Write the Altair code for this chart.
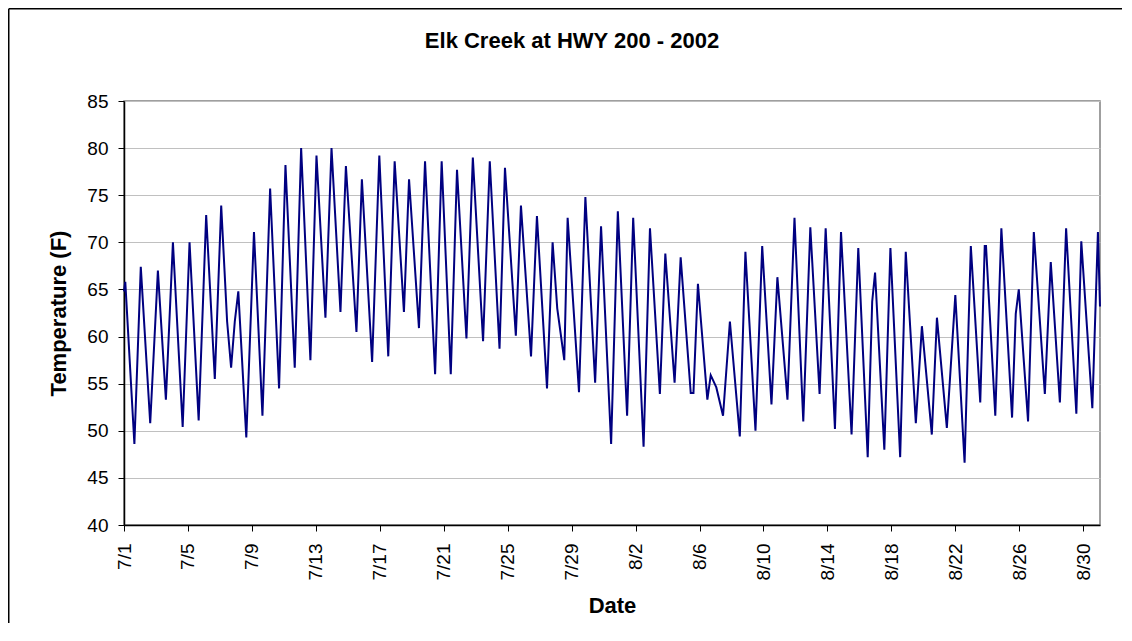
import json
import altair as alt
import pandas as pd

# ---- data (days since 7/1 00:00, temperature F) ----
days = [
    0.00, 0.08, 0.65, 1.05, 1.64, 2.12, 2.62, 3.06, 3.67, 4.10,
    4.67, 5.14, 5.68, 6.08, 6.45, 6.70, 6.93, 7.15, 7.65, 8.13,
    8.66, 9.14, 9.70, 10.10, 10.68, 11.08, 11.66, 12.04, 12.60, 12.98,
    13.54, 13.88, 14.54, 14.88, 15.52, 15.97, 16.53, 16.93, 17.51, 17.83,
    18.45, 18.83, 19.46, 19.87, 20.44, 20.83, 21.42, 21.82, 22.46, 22.88,
    23.49, 23.83, 24.51, 24.83, 25.46, 25.83, 26.46, 26.81, 27.10, 27.54,
    27.75, 28.46, 28.86, 29.47, 29.84, 30.47, 30.89, 31.47, 31.85, 32.50,
    32.90, 33.52, 33.86, 34.44, 34.82, 35.45, 35.62, 35.90, 36.49, 36.70,
    37.05, 37.47, 37.90, 38.52, 38.87, 39.50, 39.92, 40.50, 40.87, 41.50,
    41.94, 42.49, 42.93, 43.51, 43.89, 44.47, 44.85, 45.51, 45.93, 46.52,
    46.80, 46.98, 47.56, 47.94, 48.55, 48.90, 49.53, 49.91, 50.53, 50.85,
    51.47, 52.00, 52.58, 52.97, 53.56, 53.84, 53.92, 54.50, 54.88, 55.55,
    55.78, 55.97, 56.55, 56.91, 57.60, 57.97, 58.54, 58.93, 59.57, 59.88,
    60.57, 60.92, 61.05,
]
temps = [
    64.8, 65.8, 48.6, 67.4, 50.8, 67.0, 53.3, 70.0, 50.4, 70.0,
    51.1, 72.9, 55.5, 73.9, 61.6, 56.7, 61.6, 64.8, 49.3, 71.1,
    51.6, 75.7, 54.5, 78.2, 56.7, 80.0, 57.5, 79.2, 62.0, 80.0,
    62.6, 78.1, 60.5, 76.7, 57.3, 79.2, 57.9, 78.6, 62.6, 76.7,
    60.9, 78.6, 56.0, 78.6, 56.0, 77.7, 59.8, 79.0, 59.5, 78.6,
    58.7, 77.9, 60.1, 73.9, 57.9, 72.8, 54.5, 70.0, 63.0, 57.5,
    72.6, 54.1, 74.8, 55.1, 71.7, 48.6, 73.3, 51.6, 72.6, 48.3,
    71.5, 53.9, 68.8, 55.1, 68.4, 54.0, 54.0, 65.6, 53.3, 55.9,
    54.6, 51.6, 61.6, 49.4, 69.0, 50.0, 69.6, 52.8, 66.3, 53.3,
    72.6, 51.0, 71.6, 53.9, 71.5, 50.2, 71.1, 49.6, 69.4, 47.2,
    63.7, 66.8, 48.0, 69.4, 47.2, 69.0, 50.8, 61.1, 49.6, 62.0,
    50.3, 64.4, 46.6, 69.6, 53.0, 69.6, 69.6, 51.6, 71.5, 51.4,
    62.4, 65.0, 51.0, 71.1, 53.9, 67.9, 53.0, 71.5, 51.8, 70.1,
    52.4, 71.1, 63.2,
]
tick_days = [0, 4, 8, 12, 16, 20, 24, 28, 32, 36, 40, 44, 48, 52, 56, 60]
tick_labels = ["7/1", "7/5", "7/9", "7/13", "7/17", "7/21", "7/25", "7/29",
               "8/2", "8/6", "8/10", "8/14", "8/18", "8/22", "8/26", "8/30"]
y_ticks = [40, 45, 50, 55, 60, 65, 70, 75, 80, 85]
title_text = "Elk Creek at HWY 200 - 2002"
x_title = "Date"
y_title = "Temperature (F)"

df = pd.DataFrame({"day": days, "temp": temps})

FONT = "Liberation Sans"
W, H = 976, 424
PAD = {"left": 116, "top": 93, "right": 24, "bottom": 100}
label_expr = json.dumps(tick_labels) + "[indexof(" + json.dumps(tick_days) + ", datum.value)]"

line = alt.Chart(df).mark_line(color="#000080", strokeWidth=2).encode(
    x=alt.X(
        "day:Q",
        scale=alt.Scale(domain=[0, 61.05], nice=False, zero=False),
        axis=alt.Axis(
            values=tick_days, labelExpr=label_expr, labelAngle=270,
            labelAlign="right", labelBaseline="middle", labelFontSize=19,
            labelPadding=12, labelFlush=False, labelOverlap=False,
            tickSize=6, grid=False, title=x_title, titleFontSize=22,
            titleFontWeight="bold", titleX=488, titleY=87,
            titleBaseline="alphabetic", titleAlign="center",
            domainColor="black", tickColor="black", labelColor="black",
            titleColor="black", domainWidth=1.5,
        ),
    ),
    y=alt.Y(
        "temp:Q",
        scale=alt.Scale(domain=[40, 85], nice=False, zero=False),
        axis=alt.Axis(
            values=y_ticks, grid=True, gridColor="#c0c0c0", gridWidth=1,
            labelFontSize=19, labelPadding=10, labelFlush=False,
            labelOverlap=False, tickSize=6, title=y_title, titleFontSize=22,
            titleFontWeight="bold", titleAngle=270, titleX=-59, titleY=212,
            titleBaseline="alphabetic", titleAlign="center",
            domainColor="black", tickColor="black", labelColor="black",
            titleColor="black", domainWidth=1.5,
        ),
    ),
)

title = alt.Chart(pd.DataFrame({"t": [title_text]})).mark_text(
    font=FONT, fontSize=22, fontWeight="bold", align="center",
    baseline="alphabetic", color="black",
).encode(x=alt.value(448), y=alt.value(-53), text="t:N")

# chart-area frame: only its left and top edges fall inside the picture
frame_left = alt.Chart(pd.DataFrame({"b": [0]})).mark_rule(
    color="black", strokeWidth=1.5,
).encode(x=alt.value(-115.25), y=alt.value(-92.25), y2=alt.value(H + 98))
frame_top = alt.Chart(pd.DataFrame({"b": [0]})).mark_rule(
    color="black", strokeWidth=1.5,
).encode(y=alt.value(-92.25), x=alt.value(-115.25), x2=alt.value(W + 22))

chart = alt.layer(line, title, frame_left, frame_top).properties(
    width=W, height=H,
    autosize=alt.AutoSizeParams(type="none"),
    padding=PAD,
).configure_view(
    stroke="#808080", strokeWidth=1.5,
).configure_axis(
    labelFont=FONT, titleFont=FONT,
)

chart.save("out.html", embed_options={"renderer": "svg", "actions": False})
